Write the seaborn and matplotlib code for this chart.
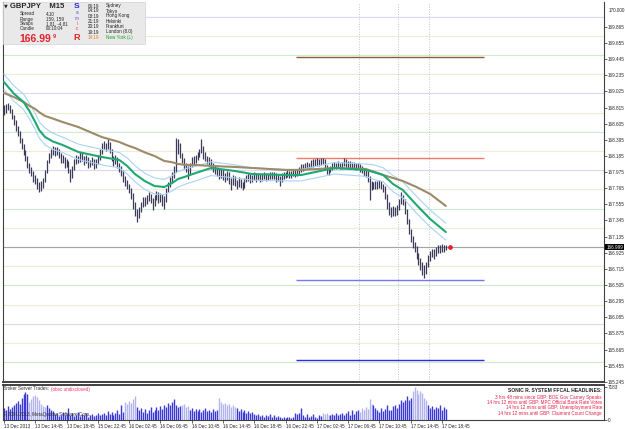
import seaborn as sns
import matplotlib.pyplot as plt
import matplotlib.patches as mpatches
import matplotlib.transforms as mtransforms
import pandas as pd
import numpy as np

# GBPJPY M15 bars (bar index 0 = 13 Dec 2013 10:45)
closes = [
    168.758, 168.810, 168.836, 168.784, 168.706, 168.627, 168.549, 168.497, 168.393, 168.315,
    168.237, 168.159, 168.068, 168.003, 167.963, 167.898, 167.872, 167.807, 167.768, 167.794,
    167.872, 167.977, 168.107, 168.185, 168.237, 168.263, 168.237, 168.263, 168.198, 168.133,
    168.159, 168.068, 168.107, 168.003, 167.924, 168.029, 168.107, 168.159, 168.133, 168.198,
    168.159, 168.107, 168.159, 168.068, 168.094, 168.133, 168.055, 168.107, 168.159, 168.237,
    168.315, 168.341, 168.289, 168.354, 168.263, 168.159, 168.107, 168.159, 168.068, 168.029,
    167.977, 167.898, 167.846, 167.794, 167.742, 167.677, 167.547, 167.456, 167.417, 167.482,
    167.547, 167.612, 167.586, 167.638, 167.664, 167.612, 167.560, 167.638, 167.690, 167.612,
    167.664, 167.586, 167.612, 167.742, 167.807, 167.872, 167.924, 168.003, 168.263, 168.328,
    168.198, 168.133, 168.068, 168.029, 167.977, 168.068, 168.133, 168.107, 168.159, 168.198,
    168.237, 168.289, 168.198, 168.159, 168.133, 168.107, 168.068, 168.029, 168.003, 167.977,
    167.938, 167.977, 167.924, 167.898, 167.950, 167.872, 167.846, 167.898, 167.846, 167.807,
    167.872, 167.820, 167.794, 167.872, 167.898, 167.924, 167.872, 167.898, 167.938, 167.898,
    167.924, 167.885, 167.911, 167.938, 167.911, 167.924, 167.950, 167.924, 167.938, 167.898,
    167.911, 167.872, 167.924, 167.938, 167.950, 167.963, 167.938, 167.950, 167.977, 167.950,
    167.977, 168.003, 168.029, 168.042, 168.055, 168.068, 168.055, 168.081, 168.094, 168.107,
    168.107, 168.094, 168.120, 168.133, 168.055, 168.003, 167.990, 168.029, 168.055, 168.068,
    168.055, 168.081, 168.055, 168.068, 168.107, 168.094, 168.068, 168.081, 168.055, 168.068,
    168.042, 168.055, 168.029, 168.003, 167.977, 167.963, 167.898, 167.820, 167.794, 167.794,
    167.820, 167.807, 167.833, 167.794, 167.768, 167.677, 167.547, 167.482, 167.456, 167.482,
    167.456, 167.508, 167.586, 167.638, 167.612, 167.482, 167.352, 167.221, 167.117, 167.039,
    166.987, 166.896, 166.831, 166.766, 166.727, 166.701, 166.766, 166.857, 166.909, 166.935,
    166.922, 166.961, 166.987, 166.961, 167.000, 166.987, 166.999,
]
highs = [
    168.85, 168.86, 168.88, 168.85, 168.80, 168.72, 168.65, 168.58, 168.51, 168.42,
    168.34, 168.26, 168.18, 168.09, 168.04, 167.99, 167.94, 167.90, 167.84, 167.86,
    167.90, 168.00, 168.13, 168.22, 168.27, 168.31, 168.30, 168.30, 168.28, 168.22,
    168.20, 168.17, 168.14, 168.12, 168.02, 168.06, 168.14, 168.20, 168.19, 168.24,
    168.23, 168.18, 168.20, 168.17, 168.13, 168.17, 168.15, 168.14, 168.20, 168.28,
    168.35, 168.38, 168.36, 168.40, 168.37, 168.28, 168.19, 168.20, 168.17, 168.10,
    168.05, 168.00, 167.93, 167.87, 167.82, 167.77, 167.70, 167.58, 167.50, 167.52,
    167.59, 167.65, 167.65, 167.68, 167.71, 167.69, 167.64, 167.68, 167.73, 167.71,
    167.70, 167.69, 167.66, 167.77, 167.84, 167.91, 167.97, 168.05, 168.42, 168.40,
    168.35, 168.23, 168.16, 168.10, 168.06, 168.10, 168.17, 168.18, 168.20, 168.24,
    168.28, 168.41, 168.31, 168.24, 168.19, 168.17, 168.14, 168.10, 168.07, 168.04,
    168.01, 168.02, 168.01, 167.96, 167.99, 167.97, 167.90, 167.94, 167.92, 167.87,
    167.91, 167.89, 167.85, 167.90, 167.94, 167.96, 167.95, 167.94, 167.98, 167.96,
    167.96, 167.95, 167.95, 167.97, 167.96, 167.96, 167.98, 167.97, 167.97, 167.96,
    167.95, 167.93, 167.96, 167.97, 167.98, 168.00, 167.99, 167.99, 168.01, 168.00,
    168.01, 168.04, 168.08, 168.08, 168.10, 168.11, 168.10, 168.13, 168.14, 168.15,
    168.16, 168.15, 168.16, 168.16, 168.14, 168.07, 168.04, 168.06, 168.09, 168.11,
    168.10, 168.12, 168.10, 168.11, 168.16, 168.14, 168.12, 168.12, 168.11, 168.11,
    168.09, 168.09, 168.08, 168.06, 168.03, 168.01, 167.99, 167.92, 167.86, 167.84,
    167.86, 167.86, 167.87, 167.86, 167.82, 167.79, 167.69, 167.58, 167.52, 167.53,
    167.52, 167.55, 167.63, 167.72, 167.68, 167.63, 167.50, 167.37, 167.24, 167.14,
    167.06, 167.01, 166.92, 166.86, 166.80, 166.77, 166.80, 166.89, 166.95, 166.98,
    166.98, 167.00, 167.03, 167.02, 167.04, 167.03, 167.02,
]
lows = [
    168.72, 168.74, 168.78, 168.75, 168.67, 168.59, 168.51, 168.45, 168.36, 168.27,
    168.20, 168.12, 168.03, 167.96, 167.92, 167.85, 167.82, 167.76, 167.71, 167.73,
    167.77, 167.85, 167.96, 168.09, 168.16, 168.20, 168.19, 168.20, 168.16, 168.09,
    168.10, 168.03, 168.04, 167.96, 167.84, 167.90, 168.00, 168.08, 168.09, 168.11,
    168.12, 168.07, 168.09, 168.03, 168.04, 168.07, 168.02, 168.03, 168.08, 168.13,
    168.21, 168.28, 168.25, 168.27, 168.22, 168.12, 168.06, 168.08, 168.03, 167.98,
    167.93, 167.85, 167.80, 167.75, 167.70, 167.62, 167.50, 167.40, 167.32, 167.38,
    167.45, 167.52, 167.54, 167.56, 167.60, 167.57, 167.48, 167.53, 167.61, 167.57,
    167.58, 167.54, 167.50, 167.59, 167.71, 167.78, 167.85, 167.90, 167.98, 168.21,
    168.16, 168.09, 168.02, 167.98, 167.88, 167.95, 168.04, 168.07, 168.09, 168.13,
    168.17, 168.22, 168.15, 168.12, 168.08, 168.06, 168.02, 167.98, 167.95, 167.92,
    167.88, 167.90, 167.87, 167.84, 167.87, 167.82, 167.74, 167.81, 167.80, 167.75,
    167.78, 167.77, 167.74, 167.77, 167.84, 167.86, 167.83, 167.84, 167.87, 167.85,
    167.87, 167.84, 167.86, 167.88, 167.86, 167.87, 167.89, 167.88, 167.88, 167.85,
    167.86, 167.79, 167.85, 167.89, 167.90, 167.91, 167.90, 167.90, 167.92, 167.91,
    167.92, 167.95, 167.98, 167.99, 168.00, 168.02, 168.01, 168.03, 168.04, 168.05,
    168.06, 168.05, 168.07, 168.08, 168.01, 167.95, 167.94, 167.97, 168.00, 168.02,
    168.01, 168.03, 168.01, 168.02, 168.05, 168.04, 168.03, 168.03, 168.01, 168.02,
    168.00, 168.01, 167.98, 167.96, 167.93, 167.91, 167.85, 167.61, 167.74, 167.75,
    167.76, 167.76, 167.77, 167.75, 167.72, 167.63, 167.50, 167.42, 167.39, 167.41,
    167.40, 167.42, 167.48, 167.56, 167.55, 167.43, 167.30, 167.17, 167.07, 166.99,
    166.93, 166.84, 166.77, 166.70, 166.64, 166.60, 166.65, 166.74, 166.82, 166.87,
    166.85, 166.88, 166.92, 166.92, 166.93, 166.94, 166.96,
]
volume = [
    2600, 2200, 3100, 2400, 2900, 3300,
    3700, 4200, 3500, 4800, 5600, 6100, 5800,
    3900, 4700, 5200, 5400, 5000, 4400, 3600, 3100, 2800,
    3400, 2600, 2200, 1900,
    1300, 1600, 900, 1200, 1700, 1000, 1400, 2600,
    1100, 1500, 800, 1200, 1700, 900, 1300, 1000, 1600, 700, 1200, 1400, 900, 1100, 1500, 1000, 1300,
    1600, 1100, 2000, 1400, 1800, 1200, 1500, 2100, 1300, 3300, 1800,
    3900, 3600, 4100, 3800, 4600, 5200,
    2800, 2200, 2600, 1800, 2400, 1600, 2100, 2800, 1700,
    2300, 2800, 2100, 3100, 2500, 3400, 2900, 3700, 3200, 3900, 4600,
    3400, 2800, 3100,
    3300, 3600, 2800, 3000,
    2200, 2600, 1900, 2400, 2000, 2500, 1800, 2300, 2600, 1900, 2200, 1700, 2400, 2000, 2300,
    4800, 3900, 3500, 3800, 3200, 3600, 2900, 3300, 2800,
    2600, 2000, 2400, 1800, 2200, 1600, 2000, 1500, 1800, 1300,
    1000, 1400, 800, 1200, 700, 1100, 900, 1300, 700, 1000, 600, 900, 700,
    500, 700, 400, 600, 700, 500, 600, 1500,
    1300, 1600, 2600,
    1100, 700, 1300, 600, 900, 1400, 700, 500, 1000, 800,
    1500, 1300, 1600, 1200,
    1100, 1400, 1200, 1500, 1000, 1300, 1600, 1200,
    1500, 2000, 1200, 2200, 1400, 1900, 2300,
    1800, 2600, 2300, 2900, 2500, 4600, 3600,
    3300, 2600, 2200, 1800, 2600, 2000, 2400, 3300, 2100,
    2300, 3000, 3300, 2700, 3600, 4500, 3900, 4300, 5200, 4400, 4900,
    6400, 7183, 6600, 5600, 6300, 6000, 4800, 4400,
    3200, 2700, 3100, 2400, 2900, 2600, 3300, 2200, 2800, 2500,
]
# bar ranges drawn in the lighter volume colour
light_runs = [(13, 21), (62, 67), (91, 94), (110, 118), (163, 166), (182, 188), (209, 216)]

# moving averages (Sonic R dragon + EMA89), read at a few bars
ma_bars = [0, 5, 10, 13, 16, 18, 21, 25, 30, 38, 50, 59, 63, 67, 72, 77, 82, 86, 89, 93,
           98, 106, 118, 127, 144, 152, 169, 185, 189, 194, 199, 204, 211, 218, 226]
ema_slow = [169.005, 168.953, 168.888, 168.838, 168.797, 168.755, 168.706, 168.672, 168.627,
            168.562, 168.432, 168.367, 168.324, 168.289, 168.232, 168.185, 168.120, 168.104,
            168.081, 168.068, 168.068, 168.055, 168.042, 168.029, 168.003, 168.003, 168.029,
            168.016, 167.982, 167.937, 167.898, 167.859, 167.781, 167.690, 167.534]
ema_mid = [169.148, 168.998, 168.888, 168.771, 168.627, 168.523, 168.432, 168.374, 168.328,
           168.237, 168.172, 168.133, 168.055, 167.950, 167.859, 167.794, 167.781, 167.833,
           167.885, 167.918, 167.963, 168.029, 167.990, 167.950, 167.937, 167.937, 168.029,
           168.003, 167.976, 167.937, 167.820, 167.742, 167.547, 167.364, 167.195]
ema_hi = [169.25, 169.10, 168.99, 168.87, 168.74, 168.63, 168.55, 168.48, 168.43, 168.34,
          168.27, 168.23, 168.16, 168.06, 167.96, 167.90, 167.88, 167.93, 167.98, 168.02,
          168.05, 168.11, 168.07, 168.03, 168.01, 168.01, 168.10, 168.08, 168.07, 168.03,
          167.93, 167.85, 167.66, 167.48, 167.31]
ema_lo = [169.05, 168.90, 168.79, 168.67, 168.53, 168.42, 168.33, 168.27, 168.23, 168.14,
          168.07, 168.03, 167.95, 167.85, 167.75, 167.69, 167.68, 167.73, 167.78, 167.82,
          167.86, 167.93, 167.90, 167.87, 167.86, 167.86, 167.95, 167.92, 167.88, 167.85,
          167.72, 167.64, 167.44, 167.26, 167.09]

# drawn objects: horizontal levels and news times
obj_levels = [169.474, 168.159, 166.570, 165.529]
obj_colors = ["#8c5c3c", "#f07a68", "#7676f6", "#2c2ce6"]
obj_span = (149.4, 245.5)
news_bars = [181.6, 201.5, 217.4]
bid = 166.999

time_label_bars = [0, 16, 32, 48, 64, 80, 96, 112, 128, 144, 160, 176, 192, 208, 224]
time_labels = ["13 Dec 2013", "13 Dec 14:45", "13 Dec 18:45", "15 Dec 22:45", "16 Dec 02:45",
               "16 Dec 06:45", "16 Dec 10:45", "16 Dec 14:45", "16 Dec 18:45", "16 Dec 22:45",
               "17 Dec 02:45", "17 Dec 06:45", "17 Dec 10:45", "17 Dec 14:45", "17 Dec 18:45"]
price_ticks = [165.245, 165.455, 165.665, 165.875, 166.085, 166.295, 166.505, 166.715,
               166.925, 167.135, 167.345, 167.555, 167.765, 167.975, 168.185, 168.395,
               168.605, 168.815, 169.025, 169.235, 169.445, 169.655, 169.865]

city_times = ["06:19", "04:19", "03:19", "21:19", "20:19", "19:19", "14:19"]
city_names = ["Sydney", "Tokyo", "Hong Kong", "Helsinki", "Frankfurt", "London (8.0)", "New York (L)"]
info_keys = ["Spread", "Range", "Swaps", "Candle"]
info_vals = ["4.10", "159, 159", "1.81, -4.81", "00:10:04"]
headlines = ["3 hrs 48 mins since GBP: BOE Gov Carney Speaks",
             "14 hrs 12 mins until GBP: MPC Official Bank Rate Votes",
             "14 hrs 12 mins until GBP: Unemployment Rate",
             "14 hrs 12 mins until GBP: Claimant Count Change"]

assert len(closes) == len(highs) == len(lows) == len(volume)

bars = pd.DataFrame({"high": highs, "low": lows, "close": closes, "volume": volume})
bars["light"] = False
for a, b in light_runs:
    bars.loc[a:b, "light"] = True
ma = pd.DataFrame({"bar": ma_bars, "slow": ema_slow, "mid": ema_mid, "hi": ema_hi, "lo": ema_lo})

sns.set_theme(style="white")
plt.rcParams['font.family'] = ['Liberation Sans', 'DejaVu Sans']

W, H = 625, 429
fig = plt.figure(figsize=(W / 100, H / 100), dpi=100)


def fx(x):
    return x / W


def fy(y):
    return 1 - y / H


ax = fig.add_axes([fx(3), fy(382), fx(604) - fx(3), fy(2) - fy(382)])
axv = fig.add_axes([fx(3), fy(420), fx(604) - fx(3), fy(385) - fy(420)], sharex=ax)

# --- main price panel ---
ax.set_xlim(-0.5, 306.9)
ax.set_ylim(165.242, 170.19)
for lv in np.arange(165.25, 170.01, 0.25):
    frac = round(lv % 1, 2)
    c = "#d9d9f5" if frac == 0 else ("#cdeccd" if frac == 0.5 else "#eeecd8")
    ax.axhline(lv, color=c, lw=0.8, zorder=0)

ax.axhline(bid, color="#a4a4a4", lw=0.8, zorder=1)
ax.hlines(obj_levels, *obj_span, colors=obj_colors, lw=1.0, zorder=2)
ax.vlines(news_bars, 165.242, 170.19, colors="#b4b4b4", linestyles=(0, (1, 2)), lw=0.6, zorder=1)

ax.vlines(bars.index, bars["low"], bars["high"], color="#3c3c5a", lw=0.9, zorder=3)

sns.lineplot(data=ma, x="bar", y="hi", ax=ax, color="#a9d3f5", lw=0.8, zorder=4)
sns.lineplot(data=ma, x="bar", y="lo", ax=ax, color="#a9d3f5", lw=0.8, zorder=4)
sns.lineplot(data=ma, x="bar", y="slow", ax=ax, color="#9c8a68", lw=1.5, zorder=4)
sns.lineplot(data=ma, x="bar", y="mid", ax=ax, color="#1fa872", lw=1.5, zorder=5)
ax.plot(228.1, bid, "o", color="#e3202c", ms=2.4, zorder=6)

ax.set_xlabel("")
ax.set_ylabel("")
ax.yaxis.tick_right()
ax.set_yticks(price_ticks)
ax.set_yticklabels([f"{p:.3f}" for p in price_ticks])
ax.tick_params(axis="y", length=2, width=0.5, labelsize=3.3, pad=1, right=True)
ax.tick_params(axis="x", bottom=False, labelbottom=False)
for s in ["left", "right", "bottom"]:
    ax.spines[s].set_color("#404040")
    ax.spines[s].set_linewidth(0.8)
ax.spines["bottom"].set_linewidth(1.4)
ax.spines["top"].set_visible(False)

blend = mtransforms.blended_transform_factory(ax.transAxes, ax.transData)
ax.text(1.004, bid, "166.999", transform=blend, va="center", ha="left", fontsize=3.3,
        color="white", bbox=dict(boxstyle="square,pad=0.2", fc="black", ec="none"), zorder=7)
ax.text(1.007, 1 - 8 / 380, "170.000", transform=ax.transAxes, va="center", ha="left", fontsize=3.3)

# --- volume panel ---
vcol = np.where(bars["light"], "#b4b4ee", "#3a3ad6")
axv.vlines(bars.index, 0, bars["volume"], colors=vcol, lw=1.0)
axv.set_ylim(0, 7183 * 1.07)
axv.yaxis.tick_right()
axv.set_yticks([0, 7183])
axv.set_yticklabels(["0", "7183"])
axv.tick_params(axis="y", length=2, width=0.5, labelsize=3.3, pad=1, right=True)
axv.set_xticks(time_label_bars)
axv.set_xticklabels(time_labels, ha="left", fontsize=3.3)
axv.tick_params(axis="x", length=2, width=0.5, pad=1, bottom=True)
for s in axv.spines.values():
    s.set_color("#404040")
    s.set_linewidth(0.8)
axv.spines["top"].set_linewidth(1.4)
axv.set_xlabel("")
axv.set_ylabel("")

fig.text(fx(3), fy(389), "Broker Server Trades:", fontsize=3.3, color="#303030", va="center")
fig.text(fx(51), fy(389), "(obsc undisclosed)", fontsize=3.3, color="#f03462", va="center")
fig.text(fx(3), fy(414), "\u00a9 2001-2013, MetaQuotes Software Corp.", fontsize=3.3,
         color="#303030", va="center")
fig.text(fx(602), fy(391), "SONIC R. SYSTEM FFCAL HEADLINES:", fontsize=3.6,
         fontweight="bold", color="#202020", ha="right", va="center")
for k, line in enumerate(headlines):
    fig.text(fx(602), fy(397 + 5.4 * k), line, fontsize=3.3, color="#e8204a", ha="right", va="center")

# --- info box at top-left ---
fig.add_artist(mpatches.Rectangle((fx(3), fy(44)), fx(145) - fx(3), fy(2) - fy(44),
                                  transform=fig.transFigure, fc="#e9e9e9", ec="#d2d2d2",
                                  lw=0.5, zorder=5))
fig.text(fx(4), fy(6), "\u25bc", fontsize=3.5, va="center", zorder=6, family="DejaVu Sans")
fig.text(fx(10), fy(6), "GBPJPY    M15", fontsize=5.5, fontweight="bold", va="center", zorder=6)
for k, (kk, vv) in enumerate(zip(info_keys, info_vals)):
    fig.text(fx(20), fy(14 + 5 * k), kk, fontsize=3.3, va="center", zorder=6)
    fig.text(fx(46), fy(14 + 5 * k), vv, fontsize=3.3, va="center", zorder=6)
fig.text(fx(19), fy(39), "166.99", fontsize=7.5, fontweight="bold", color="#e3202c", va="center", zorder=6)
fig.text(fx(53), fy(36), "9", fontsize=4, fontweight="bold", color="#e3202c", va="center", zorder=6)
fig.text(fx(77), fy(6), "S", fontsize=6, fontweight="bold", color="#2424e0", ha="center", va="center", zorder=6)
for k, (ch, c) in enumerate(zip("amic", ["#4848e0", "#7a48c8", "#c0409c", "#e03050"])):
    fig.text(fx(77), fy(13 + 5.3 * k), ch, fontsize=3.3, color=c, ha="center", va="center", zorder=6)
fig.text(fx(77), fy(38), "R", fontsize=6.5, fontweight="bold", color="#e3202c", ha="center", va="center", zorder=6)
rows_y = [6, 11, 16, 21.5, 27, 32, 37.5]
for k, (t, name) in enumerate(zip(city_times, city_names)):
    last = k == len(city_times) - 1
    fig.text(fx(88), fy(rows_y[k]), t, fontsize=3.3, va="center", zorder=6,
             color="#e08020" if last else "#202020")
    fig.text(fx(106), fy(rows_y[k]), name, fontsize=3.3, va="center", zorder=6,
             color="#20a020" if last else "#202020")

fig.savefig("out.png", dpi=100)
